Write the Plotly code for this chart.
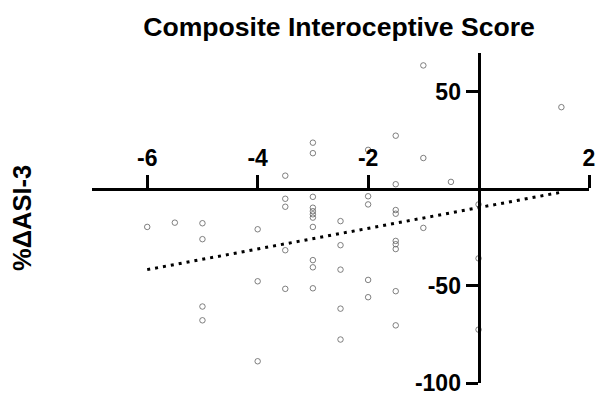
import plotly.graph_objects as go

# Data
x_vals = [-6.0, -5.5, -5.0, -5.0, -5.0, -5.0, -4.0, -4.0, -4.0,
          -3.5, -3.5, -3.5, -3.5, -3.5,
          -3.0, -3.0, -3.0, -3.0, -3.0, -3.0, -3.0, -3.0, -3.0, -3.0, -3.0,
          -2.5, -2.5, -2.5, -2.5, -2.5,
          -2.0, -2.0, -2.0, -2.0, -2.0,
          -1.5, -1.5, -1.5, -1.5, -1.5, -1.5, -1.5, -1.5, -1.5,
          -1.0, -1.0, -1.0, -0.5, 0.0, 0.0, 0.0, 1.5]
y_vals = [-19.6, -17.4, -17.7, -25.9, -60.6, -67.7, -20.8, -47.6, -88.8,
          6.8, -5.1, -9.2, -31.6, -51.5,
          23.8, 18.4, -4.1, -9.7, -11.5, -13.1, -14.8, -19.6, -36.7, -40.4, -51.2,
          -16.6, -29.0, -41.6, -61.7, -77.6,
          20.1, -3.8, -8.0, -46.9, -55.8,
          27.4, 2.4, -10.9, -12.8, -26.8, -28.5, -31.0, -52.7, -70.3,
          63.6, 15.9, -20.1, 3.6, -8.0, -35.8, -72.5, 42.1]

fit_x = [-6.0, 1.5]
fit_y = [-41.6, -1.7]

x_ticks = [-6, -4, -2, 2]
y_ticks = [-100, -50, 50]

x_range = [-7, 2]
y_range = [-100, 70]

title_text = "Composite Interoceptive Score"
y_title = "%ΔASI-3"

FONT = "Liberation Sans, Arial, sans-serif"

fig = go.Figure()
fig.add_trace(go.Scatter(
    x=x_vals, y=y_vals, mode="markers",
    marker=dict(symbol="circle-open", size=5.5, color="#606060", line=dict(width=0.8, color="#606060")),
    showlegend=False, hoverinfo="skip", cliponaxis=False))
fig.add_trace(go.Scatter(
    x=fit_x, y=fit_y, mode="lines",
    line=dict(color="black", width=3, dash="3px,5px"),
    showlegend=False, hoverinfo="skip"))

x_axis_pos = (0 - y_range[0]) / (y_range[1] - y_range[0])
y_axis_pos = (0 - x_range[0]) / (x_range[1] - x_range[0])

tick_font = dict(family=FONT, size=23, color="black", weight="bold")

fig.update_layout(
    width=596, height=393,
    margin=dict(l=92, r=7, t=53, b=10, autoexpand=False),
    paper_bgcolor="white", plot_bgcolor="white",
    title=dict(text=title_text, x=339 / 596, xref="container", xanchor="center",
               y=1 - 27 / 393, yref="container", yanchor="middle",
               font=dict(family=FONT, size=26.6, color="black", weight="bold")),
    xaxis=dict(range=x_range, domain=[0, 1], anchor="free", position=x_axis_pos, side="top",
               tickvals=x_ticks, ticktext=[str(v) for v in x_ticks], automargin=False,
               ticklabeloverflow="allow",
               showline=True, linecolor="black", linewidth=3,
               ticks="outside", ticklen=13, tickwidth=3, tickcolor="black",
               showgrid=False, zeroline=False, tickfont=tick_font),
    yaxis=dict(range=y_range, domain=[0, 1], anchor="free", position=y_axis_pos, side="left",
               tickvals=y_ticks, ticktext=[str(v) for v in y_ticks], automargin=False,
               ticklabeloverflow="allow",
               showline=True, linecolor="black", linewidth=3,
               ticks="outside", ticklen=12, tickwidth=3, tickcolor="black",
               showgrid=False, zeroline=False, tickfont=tick_font),
    annotations=[dict(text=y_title, xref="paper", yref="paper", x=(22 - 92) / 497, y=0.5,
                      xanchor="center", yanchor="middle", textangle=-90, showarrow=False,
                      font=dict(family=FONT, size=25.5, color="black", weight="bold"))],
)

fig.write_html("out.html", config={"displayModeBar": False},
               post_script="document.body.style.margin='0';")
